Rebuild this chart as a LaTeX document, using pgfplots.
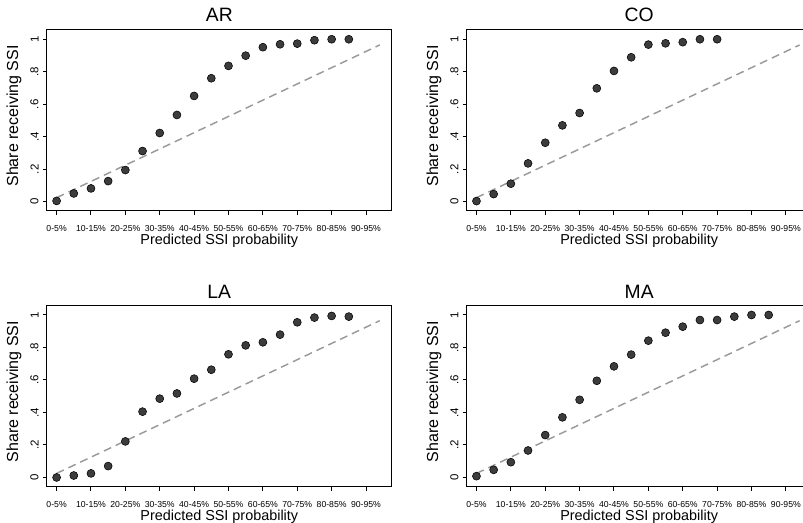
\documentclass[border=0pt]{standalone}
\usepackage{pgfplots}
\pgfplotsset{compat=1.18}
\usepackage{fontspec}
\setmainfont{Liberation Sans}
\definecolor{dotc}{HTML}{3C3C3C}
\definecolor{dashc}{HTML}{9A9A9A}
\pgfplotsset{
  every axis title/.style={at={(axis description cs:0.5,1)}, anchor=base, inner sep=0pt, font=\fontsize{14.5}{16}\selectfont},
  ssi/.style={
    scale only axis, width=258.75pt, height=135.75pt,
    xmin=-0.57, xmax=19.5, ymin=-0.057, ymax=1.057,
    axis line style={black, line width=0.75pt},
    xtick={0,2,4,6,8,10,12,14,16,18},
    xticklabels={0-5\%,10-15\%,20-25\%,30-35\%,40-45\%,50-55\%,60-65\%,70-75\%,80-85\%,90-95\%},
    ytick={0,0.2,0.4,0.6,0.8,1}, yticklabels={0,.2,.4,.6,.8,1},
    tick align=outside, tick pos=left, major tick length=3pt,
    tick style={black, line width=0.75pt},
    /pgf/number format/assume math mode=true,
    xticklabel style={font=\fontsize{6.5}{7}\selectfont, anchor=north, inner sep=0pt},
    xticklabel shift=7.6pt,
    yticklabel style={font=\fontsize{8.6}{9}\selectfont, rotate=90, anchor=south, inner sep=0pt},
    yticklabel shift=3pt,
    xlabel={Predicted SSI probability},
    ylabel={Share receiving SSI},
    xlabel style={at={([yshift=-25.2pt]axis description cs:0.5,0)}, anchor=base, inner sep=0pt, font=\fontsize{10.8}{12}\selectfont},
    ylabel style={at={([xshift=-21.5pt]axis description cs:0,0.525)}, rotate=0, anchor=base, inner sep=0pt, font=\fontsize{12}{13}\selectfont},
    clip=false,
  },
  diag/.style={color=dashc, line width=1.1pt, dash pattern=on 6pt off 3.8pt, no marks},
  dots/.style={only marks, mark=*, mark size=3pt, mark options={fill=dotc, draw=none}},
}
\begin{document}
\begin{tikzpicture}
\begin{axis}[ssi, at={(35.1pt,234pt)}, anchor=south west, title={AR}, title style={yshift=6.2pt}]
\addplot[diag] coordinates {(0,0.025) (18.8,0.965)};
\addplot[dots] coordinates {
(0,0.005) (1,0.051) (2,0.082) (3,0.127) (4,0.195) (5,0.312) (6,0.423) (7,0.534) (8,0.651)
(9,0.760) (10,0.836) (11,0.899) (12,0.951) (13,0.969) (14,0.973) (15,0.994) (16,1.0) (17,1.0)};
\end{axis}
\begin{axis}[ssi, at={(350pt,234pt)}, anchor=south west, title={CO}, title style={yshift=6.2pt}]
\addplot[diag] coordinates {(0,0.025) (18.8,0.965)};
\addplot[dots] coordinates {
(0,0.004) (1,0.047) (2,0.111) (3,0.236) (4,0.363) (5,0.470) (6,0.546) (7,0.698) (8,0.805)
(9,0.889) (10,0.967) (11,0.975) (12,0.982) (13,1.0) (14,1.0)};
\end{axis}
\begin{axis}[ssi, at={(35.1pt,27.2pt)}, anchor=south west, title={LA}, title style={yshift=5.2pt}]
\addplot[diag] coordinates {(0,0.025) (18.8,0.965)};
\addplot[dots] coordinates {
(0,0.0) (1,0.012) (2,0.025) (3,0.070) (4,0.222) (5,0.405) (6,0.485) (7,0.517) (8,0.608)
(9,0.663) (10,0.758) (11,0.813) (12,0.832) (13,0.879) (14,0.955) (15,0.984) (16,0.994) (17,0.990)};
\end{axis}
\begin{axis}[ssi, at={(350pt,27.2pt)}, anchor=south west, title={MA}, title style={yshift=5.2pt}]
\addplot[diag] coordinates {(0,0.025) (18.8,0.965)};
\addplot[dots] coordinates {
(0,0.008) (1,0.047) (2,0.094) (3,0.166) (4,0.261) (5,0.370) (6,0.478) (7,0.595) (8,0.684)
(9,0.756) (10,0.842) (11,0.891) (12,0.928) (13,0.969) (14,0.969) (15,0.990) (16,1.0) (17,1.0)};
\end{axis}
\pgfresetboundingbox
\path[use as bounding box] (0,0) rectangle (602.25pt,392.25pt);
\end{tikzpicture}
\end{document}
